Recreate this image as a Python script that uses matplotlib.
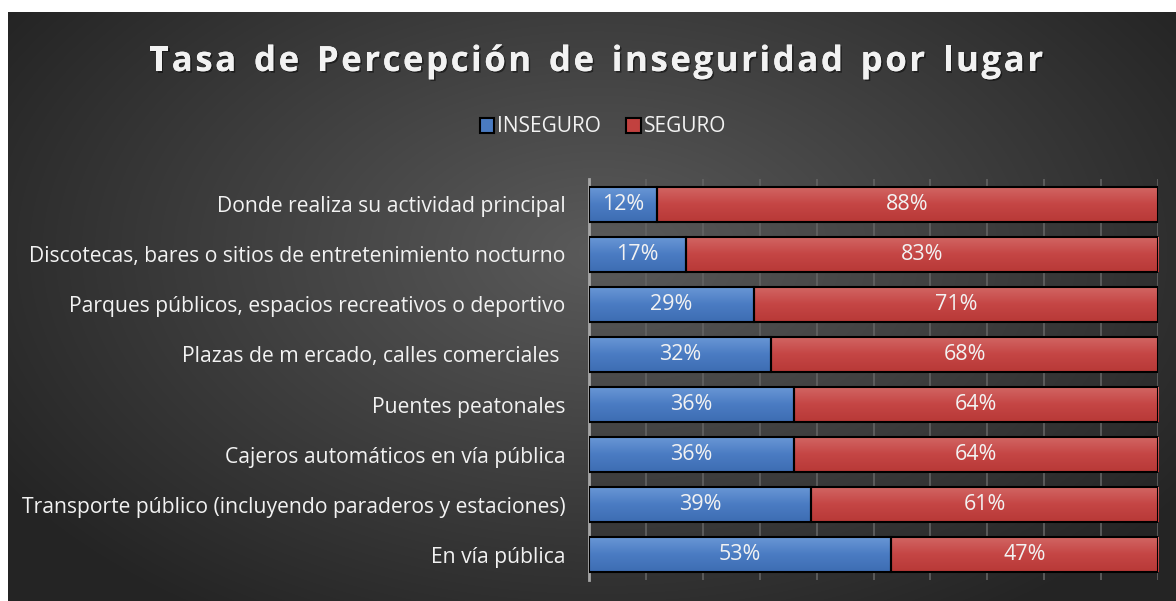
import numpy as np
import matplotlib
matplotlib.use('Agg')
from matplotlib import pyplot as plt
from matplotlib import patheffects as pe
from matplotlib.colors import LinearSegmentedColormap

# datos
lugares = ['Donde realiza su actividad principal',
           'Discotecas, bares o sitios de entretenimiento nocturno',
           'Parques públicos, espacios recreativos o deportivo',
           'Plazas de m ercado, calles comerciales ',
           'Puentes peatonales',
           'Cajeros automáticos en vía pública',
           'Transporte público (incluyendo paraderos y estaciones)',
           'En vía pública']
inseguro = [12, 17, 29, 32, 36, 36, 39, 53]
seguro = [88, 83, 71, 68, 64, 64, 61, 47]
series = ['INSEGURO', 'SEGURO']
titulo = 'Tasa de Percepción de inseguridad por lugar'

W, H = 1176, 601
fig = plt.figure(figsize=(W / 100, H / 100), dpi=100, facecolor='white')

# fondo con degradado radial
bg = fig.add_axes([8 / W, 0, 1 - 8 / W, 1 - 12 / H])
bg.set_axis_off()
yy, xx = np.mgrid[0:589, 0:1168]
d = np.sqrt(((xx - 590) / 700.0) ** 2 + ((yy - 240) / 430.0) ** 2)
d = np.clip(d, 0, 1)
g = 0.355 - 0.21 * d
bg.imshow(np.dstack([g, g, g]), aspect='auto', extent=[0, 1, 0, 1], origin='upper')
bg.set_xlim(0, 1)
bg.set_ylim(0, 1)

# ejes
ax = fig.add_axes([589 / W, 21 / H, 569 / W, 401 / H])
ax.set_facecolor('none')
for s in ['top', 'right', 'bottom']:
    ax.spines[s].set_visible(False)
ax.spines['left'].set_color('#a6a6a6')
ax.spines['left'].set_linewidth(2)
ax.set_xticks(np.arange(0, 101, 10))
ax.tick_params(axis='x', length=0, labelbottom=False)
ax.tick_params(axis='y', length=0, pad=17, labelsize=15.2, labelcolor='#f2f2f2')
ax.grid(axis='x', color='#636363', linewidth=1.2)
ax.set_axisbelow(True)
ax.set_yticks(range(len(lugares)))
ax.set_yticklabels(lugares, fontfamily='Open Sans')

cm_azul = LinearSegmentedColormap.from_list('a', ['#6a98d6', '#4b7cc3', '#3d6db3'])
cm_rojo = LinearSegmentedColormap.from_list('r', ['#d26764', '#c54645', '#b83937'])
grad = np.linspace(0, 1, 50).reshape(-1, 1)

y = np.arange(len(lugares))
b1 = ax.barh(y, inseguro, height=0.7, color='#4a7bc1', edgecolor='black', linewidth=1.5, zorder=3)
b2 = ax.barh(y, seguro, left=inseguro, height=0.7, color='#c2413f', edgecolor='black', linewidth=1.5, zorder=3)
for bars, cmap in [(b1, cm_azul), (b2, cm_rojo)]:
    for r in bars:
        x0, y0 = r.get_x(), r.get_y()
        im = ax.imshow(grad, cmap=cmap, aspect='auto', zorder=3.5,
                       extent=[x0, x0 + r.get_width(), y0 + r.get_height(), y0])
        im.set_clip_path(r)
        r.set_facecolor('none')
        r.set_zorder(4)
ax.set_xlim(0, 100)
ax.set_ylim(len(lugares) - 0.5, -0.5)

for i in range(len(lugares)):
    ax.text(inseguro[i] / 2, i, '%d%%' % inseguro[i], ha='center', va='center',
            color='#f2f2f2', fontsize=15.5, fontfamily='Open Sans', zorder=5)
    ax.text(inseguro[i] + seguro[i] / 2, i, '%d%%' % seguro[i], ha='center', va='center',
            color='#f2f2f2', fontsize=15.5, fontfamily='Open Sans', zorder=5)

# leyenda
leg = fig.legend([b1[0], b2[0]], series, loc='center', bbox_to_anchor=(603 / W, 1 - 127 / H),
                 ncol=2, frameon=False, handlelength=0.7, handleheight=0.7,
                 handletextpad=0.15, columnspacing=1.2, labelcolor='#f2f2f2',
                 prop={'family': 'Open Sans', 'size': 15})
for h, c in zip(leg.legend_handles, ['#4a7bc1', '#c2413f']):
    h.set_facecolor(c)
    h.set_edgecolor('black')

# titulo con espaciado entre letras
renderer = fig.canvas.get_renderer()
espacio = 2.6
tam = 25
sombra = [pe.withSimplePatchShadow(offset=(1.2, -1.2), shadow_rgbFace='black', alpha=0.45), pe.Normal()]
anchos = []
for ch in titulo:
    t = fig.text(0, 0, ch if ch != ' ' else 'n', fontsize=tam, fontweight='bold', fontfamily='Open Sans')
    w = t.get_window_extent(renderer).width
    if ch == ' ':
        w = w * 0.55
    anchos.append(w)
    t.remove()
total = sum(anchos) + espacio * (len(titulo) - 1)
x = 596 - total / 2
for ch, w in zip(titulo, anchos):
    if ch != ' ':
        fig.text(x / W, 1 - 62 / H, ch, fontsize=tam, fontweight='bold', fontfamily='Open Sans',
                 color='#f2f2f2', va='center', ha='left', path_effects=sombra)
    x += w + espacio

plt.savefig('out.png', dpi=100, facecolor='white')
